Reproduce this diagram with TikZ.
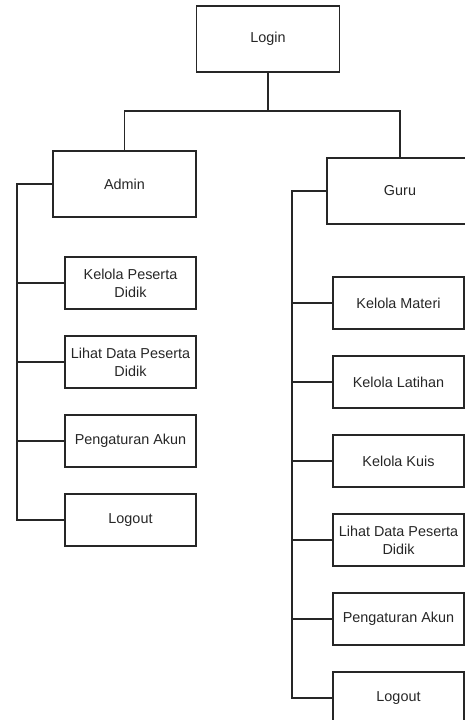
\documentclass[tikz,border=0pt]{standalone}
\usepackage{fontspec}
\setmainfont{Liberation Sans}
\usepackage{xcolor}
\usepackage{tikz}
\usetikzlibrary{positioning}

\begin{document}
\begin{tikzpicture}[
    x=1pt, y=-1pt,
    every node/.style={align=center, font=\fontsize{14.4}{18}\selectfont, text=black!85},
    box/.style={rectangle, draw=black!85, line width=1.2pt, minimum width=143pt, minimum height=66pt, inner sep=0pt},
    subbox/.style={rectangle, draw=black!85, line width=1.2pt, minimum width=131pt, minimum height=52pt, inner sep=0pt},
    link/.style={draw=black!85, line width=1.2pt}
]
    \useasboundingbox (0,0) rectangle (465,720);
    \clip (0,0) rectangle (465,720);

    \node[box] (login) at (268,39) {Login};
    \node[box] (admin) at (124.5,184) {Admin};
    \node[box, minimum width=146pt] (guru) at (400,191) {Guru};
    \coordinate (split) at (268,111);
    \draw[link] (login) -- (split);
    \draw[link] (admin.north) |- (split) -| (guru.north);

    % menu admin
    \foreach \name/\y/\txt in {akelola/283/{Kelola Peserta\\Didik}, alihat/362/{Lihat Data Peserta\\Didik},
                               aakun/441/{Pengaturan Akun}, alogout/520/{Logout}}
        \node[subbox] (\name) at (130.5,\y) {\txt};
    \coordinate (abus) at (17,184);
    \draw[link] (admin.west) -- (abus) |- (alogout.west);
    \foreach \name in {akelola, alihat, aakun}
        \draw[link] (abus |- \name.west) -- (\name.west);

    % menu guru
    \foreach \name/\y/\txt in {gmateri/303/{Kelola Materi}, glatihan/382/{Kelola Latihan}, gkuis/461/{Kelola Kuis},
                               glihat/540/{Lihat Data Peserta\\Didik}, gakun/619/{Pengaturan Akun}, glogout/698/{Logout}}
        \node[subbox] (\name) at (398.5,\y) {\txt};
    \coordinate (gbus) at (292,191);
    \draw[link] (guru.west) -- (gbus) |- (glogout.west);
    \foreach \name in {gmateri, glatihan, gkuis, glihat, gakun}
        \draw[link] (gbus |- \name.west) -- (\name.west);
\end{tikzpicture}
\end{document}
